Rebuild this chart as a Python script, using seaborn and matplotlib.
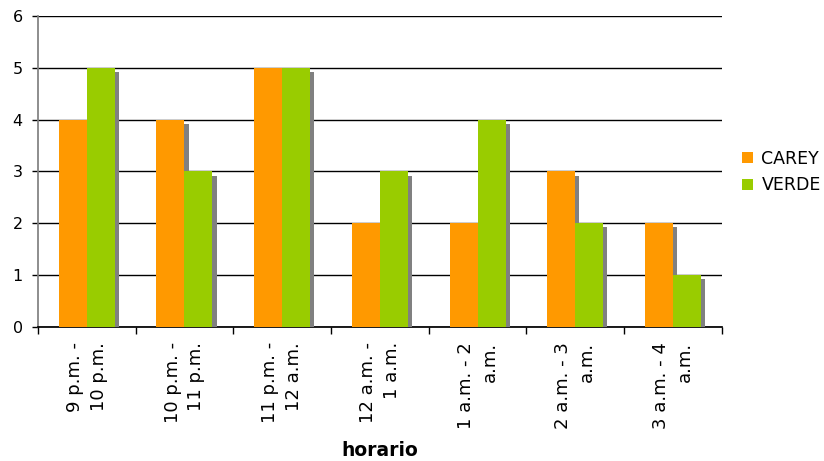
import matplotlib
matplotlib.use("Agg")
import matplotlib.pyplot as plt
import matplotlib.patheffects as pe
import seaborn as sns
import pandas as pd

horarios = ["9 p.m. -\n10 p.m.", "10 p.m. -\n11 p.m.", "11 p.m. -\n12 a.m.",
            "12 a.m. -\n1 a.m.", "1 a.m. - 2\na.m.", "2 a.m. - 3\na.m.",
            "3 a.m. - 4\na.m."]
carey = [4, 4, 5, 2, 2, 3, 2]
verde = [5, 3, 5, 3, 4, 2, 1]

df = pd.DataFrame({
    "horario": horarios * 2,
    "valor": carey + verde,
    "serie": ["CAREY"] * len(horarios) + ["VERDE"] * len(horarios),
})

sns.set_theme(style="white")
plt.rcParams["font.family"] = ["DejaVu Sans"]
plt.rcParams["text.color"] = "black"
plt.rcParams["xtick.color"] = "black"
plt.rcParams["ytick.color"] = "black"
plt.rcParams["axes.labelcolor"] = "black"

fig = plt.figure(figsize=(8.24, 4.61), dpi=100)
ax = fig.add_axes([0.046, 0.291, 0.830, 0.674])

sns.barplot(data=df, x="horario", y="valor", hue="serie",
            palette=["#FF9900", "#99CC00"], width=0.573, gap=0,
            saturation=1, linewidth=0, ax=ax, zorder=3)

ax.legend(loc="center left", bbox_to_anchor=(1.03, 0.498), frameon=False,
          borderpad=0, borderaxespad=0,
          fontsize=12.5, handlelength=0.6, handleheight=0.6, handletextpad=0.5,
          labelspacing=0.5, title=None)

# drop shadow behind each bar
for p in ax.patches:
    p.set_path_effects([pe.SimplePatchShadow(offset=(3, -3), shadow_rgbFace="#808080", alpha=1.0),
                        pe.Normal()])

ax.set_ylim(0, 6)
ax.set_xlim(-0.5, len(horarios) - 0.5)
ax.set_yticks(range(0, 7))
ax.yaxis.grid(True, color="black", linewidth=1)
ax.set_axisbelow(True)

ax.set_xticks([i + 0.5 for i in range(-1, len(horarios))], minor=False)
ax.set_xticklabels([])
ax.set_xticks(range(len(horarios)), minor=True)
ax.set_xticklabels(horarios, minor=True, rotation=90, fontsize=13,
                   ha="center", va="top", multialignment="right", linespacing=1.42)
ax.tick_params(axis="x", which="major", length=5, width=1, color="black", direction="out", bottom=True)
ax.tick_params(axis="x", which="minor", length=0, pad=11)
ax.tick_params(axis="y", length=4, width=1, color="black", direction="out", left=True, labelsize=11.5, pad=7)

for s in ["top", "right"]:
    ax.spines[s].set_visible(False)
ax.spines["left"].set_color("#808080")
ax.spines["bottom"].set_color("black")

ax.set_xlabel("horario", fontsize=13.5, fontweight="bold", va="center")
ax.xaxis.set_label_coords(0.5, -0.399)
ax.set_ylabel("")

fig.savefig("out.png", dpi=100)
